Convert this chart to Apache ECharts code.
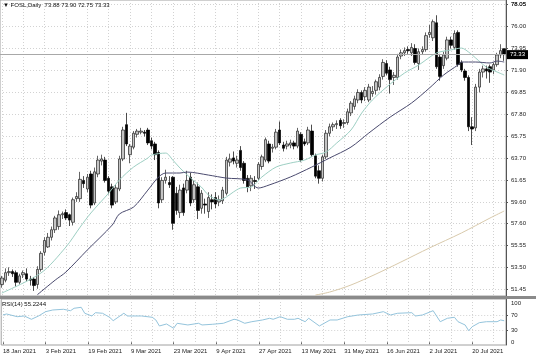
<!DOCTYPE html>
<html><head><meta charset="utf-8">
<script src="https://cdn.jsdelivr.net/npm/echarts@6/dist/echarts.min.js"></script>
<style>html,body{margin:0;padding:0;background:#fff}#c{width:536px;height:357px}</style>
</head><body><div id="c"></div>
<script>
// ---- data ----
const symbolTitle = '\u25BC FOSL,Daily  73.88 73.90 72.75 73.33';
const rsiTitle = 'RSI(14) 55.2244';
const dateLabels = ['18 Jan 2021','3 Feb 2021','19 Feb 2021','9 Mar 2021','23 Mar 2021','9 Apr 2021','27 Apr 2021','13 May 2021','31 May 2021','16 Jun 2021','2 Jul 2021','20 Jul 2021'];
const priceTicks = [51.45,53.50,55.55,57.60,59.60,61.65,63.70,65.75,67.80,69.85,71.90,73.95,76.00,78.05];
const rsiTicks = [0,30,70,100];
const rsiLevels = [30,70];
const lastPrice = 73.33;

const open = [51.9,52.3,53.0,53.1,53.0,52.1,52.8,52.9,52.4,52.4,51.9,53.3,54.9,55.4,56.3,57.0,57.3,58.4,58.6,58.4,
57.7,59.9,59.9,61.6,60.8,62.2,59.5,62.2,63.4,63.5,61.8,61.0,59.6,60.8,63.6,66.8,64.0,64.7,65.9,66.1,
66.1,66.3,65.3,65.0,64.2,59.8,61.6,61.4,61.9,60.4,58.6,60.9,60.7,61.9,59.8,61.0,59.0,59.4,58.7,59.8,
60.0,59.6,59.7,60.4,63.3,63.7,63.2,64.4,63.2,61.8,61.1,61.6,61.8,62.9,63.5,65.0,64.6,64.7,66.3,64.9,
64.8,64.9,65.1,64.8,65.9,65.2,65.1,66.2,63.9,62.5,61.8,63.8,66.0,66.6,66.8,67.2,66.9,67.0,67.9,68.5,
69.1,69.8,69.4,69.1,69.7,70.0,70.3,71.3,72.5,71.9,71.2,71.2,73.2,73.5,73.8,73.5,73.9,72.5,73.6,73.8,
75.2,74.9,76.3,73.1,72.3,73.0,74.7,74.0,75.4,72.6,71.8,71.2,66.6,66.5,70.3,71.7,72.0,72.2,71.9,72.4,
73.3,73.88];
const close = [52.5,53.0,53.1,52.9,52.1,52.7,53.0,52.4,52.3,51.8,53.3,54.8,56.0,56.3,57.0,58.1,58.4,58.5,58.1,57.9,
59.8,60.1,61.7,61.3,61.9,59.3,62.4,63.5,63.6,61.6,60.6,59.3,60.9,63.6,66.3,65.0,64.8,66.0,66.2,66.2,
66.0,65.1,64.8,64.0,59.5,61.6,61.9,61.2,57.6,58.8,60.7,58.6,61.6,59.5,61.2,58.8,60.4,59.3,60.0,59.6,
59.4,59.8,60.7,63.5,63.6,63.4,63.5,62.8,61.6,61.0,61.8,61.5,63.1,63.8,65.4,63.4,64.7,66.1,65.1,64.6,
65.0,65.1,64.8,66.2,63.5,65.0,66.3,64.0,62.0,61.8,63.8,66.0,66.6,66.8,66.9,66.7,67.0,68.0,68.8,69.2,
69.8,69.1,70.0,70.3,69.9,70.8,71.2,72.6,71.6,71.0,71.4,73.1,73.5,73.7,73.7,74.0,72.6,73.6,73.8,75.1,
75.4,76.4,72.2,71.3,73.3,74.7,74.2,75.3,72.4,71.9,71.2,66.6,66.4,70.3,71.7,72.0,71.8,71.7,72.4,73.3,
73.7,73.33];
const low = [51.6,52.1,52.7,52.6,51.7,51.9,52.5,52.2,51.8,51.3,51.5,53.1,54.6,55.3,56.0,56.7,57.0,58.0,57.9,57.35,
57.4,59.6,59.6,60.9,60.5,59.0,59.3,61.9,63.0,61.4,60.3,59.0,59.4,60.6,63.4,64.8,63.2,64.5,65.6,65.9,
65.7,64.9,64.5,63.5,59.0,59.5,61.3,60.9,57.0,58.4,58.1,58.3,60.4,59.2,59.5,58.0,58.5,58.5,58.1,58.9,
59.0,59.2,59.4,60.2,62.9,63.1,62.8,62.5,61.3,60.5,60.6,60.8,61.6,62.6,63.3,63.2,64.2,64.5,64.9,64.3,
64.5,64.6,64.5,64.6,63.3,64.8,64.9,63.8,61.8,61.3,61.5,63.6,65.7,66.2,66.4,66.4,66.5,66.8,67.6,68.2,
68.8,68.8,69.0,68.9,69.4,69.6,70.0,71.0,71.4,69.7,70.5,71.0,72.9,73.2,73.4,73.2,72.4,71.9,73.3,73.6,
74.9,74.6,72.0,70.9,72.0,72.8,73.9,73.8,72.2,71.7,70.9,66.2,64.9,66.2,69.8,71.2,71.1,70.7,71.5,72.2,
73.0,72.75];
const high = [52.7,53.4,53.5,53.3,53.2,52.9,53.2,53.4,52.7,52.6,53.6,55.0,56.3,56.7,57.3,58.3,58.8,58.7,58.9,58.5,
60.0,60.5,62.4,62.0,62.2,62.5,62.8,63.9,64.0,63.8,62.0,61.3,61.2,63.9,66.6,67.9,65.0,66.2,66.4,66.5,
66.3,66.5,65.6,65.2,64.4,61.9,62.6,62.0,62.0,61.0,61.2,61.3,62.5,62.3,61.6,61.4,60.7,59.9,60.5,60.3,
60.5,60.2,61.0,63.8,64.1,64.3,63.9,64.8,63.4,62.1,62.1,62.0,63.3,64.0,65.6,65.3,65.0,66.4,67.1,65.2,
65.3,65.4,65.3,66.5,66.1,65.5,66.6,66.8,64.1,63.0,64.0,66.3,66.9,67.0,67.2,67.4,67.3,68.3,69.0,69.5,
70.1,70.0,70.3,70.6,70.4,71.0,71.5,72.9,72.8,72.2,71.7,73.4,73.8,74.0,74.1,74.4,74.3,73.9,74.1,75.4,
76.1,76.6,77.0,73.4,73.6,75.0,75.0,75.6,75.6,72.8,72.0,71.4,67.5,70.6,72.0,72.3,72.3,72.4,72.6,73.5,
74.3,73.90];

// moving averages and RSI: [bar index, value]
const maFast = [[0,51.10],[11,52.97],[18,55.39],[22,57.25],[25,58.56],[30,60.42],[33,61.64],[37,62.85],[41,63.69],[42,63.97],[46,64.15],[48,63.50],[50,62.76],[53,61.82],[56,60.98],[58,60.24],[61,59.77],[63,60.05],[65,60.52],[67,60.89],[70,60.98],[73,61.92],[77,62.85],[81,63.22],[85,63.50],[88,63.97],[91,64.25],[94,65.09],[98,66.30],[101,67.88],[104,69.10],[108,70.31],[113,71.61],[117,72.36],[122,73.48],[126,73.76],[129,73.94],[131,73.57],[133,73.01],[136,72.17],[139,71.71],[141,71.43]];
const maSlow = [[10,50.95],[15,52.31],[18,53.06],[24,55.11],[31,57.44],[33,58.47],[37,59.12],[41,60.70],[44,61.92],[46,62.29],[50,62.29],[52,62.38],[58,62.10],[63,61.82],[69,61.64],[72,60.89],[75,61.17],[81,61.92],[87,62.85],[92,63.69],[98,64.71],[103,66.02],[109,67.51],[115,68.82],[120,70.21],[124,71.43],[128,72.36],[129,72.64],[133,72.64],[137,72.55],[139,72.73],[141,72.64]];
const maLong = [[88,50.91],[92,51.19],[98,51.85],[105,52.87],[112,53.99],[120,55.30],[129,56.70],[137,58.09],[141,58.75]];
const rsi = [[0,70.0],[1,72.6],[4,65.6],[6,67.4],[8,59.0],[10,67.4],[12,78.5],[14,82.8],[17,84.6],[19,81.0],[20,87.2],[22,89.7],[23,74.4],[25,67.4],[26,75.9],[28,74.4],[30,64.1],[31,55.4],[34,74.4],[35,67.4],[39,67.4],[42,64.1],[43,57.2],[44,41.8],[46,46.9],[48,35.9],[49,48.7],[52,44.4],[55,48.7],[56,44.4],[59,46.2],[62,48.7],[65,59.0],[66,57.2],[68,48.7],[70,52.8],[73,57.2],[75,61.5],[76,59.0],[78,65.6],[80,59.0],[82,59.0],[83,61.5],[85,52.8],[86,61.5],[89,41.8],[92,57.2],[94,57.2],[97,65.6],[100,70.0],[104,72.6],[107,78.5],[109,70.0],[111,74.4],[115,75.9],[116,67.4],[118,70.0],[121,81.0],[123,52.8],[125,61.5],[127,64.1],[128,52.8],[130,44.4],[131,29.7],[132,40.0],[134,50.3],[136,52.8],[139,52.8],[140,57.2],[141,55.2]];

// ---- chart ----
const n = open.length;
const cats = Array.from({length: n}, (_, i) => String(i));
const candles = open.map((o, i) => [o, close[i], low[i], high[i]]);
const FONT = 'Liberation Sans';
const gridLine = {show: true, lineStyle: {color: '#d2d2d2', width: 1, type: [1, 2]}};
const L = 0, W = 506;
const topTick = priceTicks[priceTicks.length - 1];

const chart = echarts.init(document.getElementById('c'), null, {renderer: 'canvas'});
chart.setOption({
  animation: false,
  backgroundColor: '#fff',
  grid: [
    {left: L, top: 0, width: W, height: 296, show: true, borderColor: '#a0a0a0', borderWidth: 1},
    {left: L, top: 299, width: W, height: 46, show: true, borderColor: '#a0a0a0', borderWidth: 1}
  ],
  xAxis: [
    {type: 'category', gridIndex: 0, data: cats, boundaryGap: true,
     axisLine: {show: false}, axisTick: {show: false}, axisLabel: {show: false},
     splitLine: Object.assign({interval: (i) => i % 6 === 0, alignWithLabel: true}, gridLine)},
    {type: 'category', gridIndex: 1, data: cats, boundaryGap: true,
     axisLine: {show: false},
     axisTick: {show: true, alignWithLabel: true, interval: (i) => i % 12 === 0, length: 2, inside: false, lineStyle: {color: '#666'}},
     axisLabel: {show: true, interval: (i) => i % 12 === 0, formatter: (v, i) => dateLabels[i / 12] || '',
       align: 'left', margin: 3, fontSize: 6, fontFamily: FONT, color: '#222'},
     splitLine: Object.assign({interval: (i) => i % 6 === 0, alignWithLabel: true}, gridLine)}
  ],
  yAxis: [
    {type: 'value', gridIndex: 0, position: 'right', min: 50.824, max: 78.423,
     axisLine: {show: true, lineStyle: {color: '#555'}},
     axisTick: {show: true, customValues: priceTicks, length: 2, lineStyle: {color: '#555'}},
     axisLabel: {show: true, customValues: priceTicks, showMaxLabel: true, showMinLabel: true,
       formatter: (v) => v.toFixed(2), margin: 5, fontSize: 6, fontFamily: FONT, color: '#222'},
     splitLine: gridLine},
    {type: 'value', gridIndex: 1, position: 'right', min: -7, max: 111,
     axisLine: {show: true, lineStyle: {color: '#555'}},
     axisTick: {show: true, customValues: rsiLevels, length: 2, lineStyle: {color: '#555'}},
     axisLabel: {show: true, customValues: rsiTicks, showMaxLabel: true, showMinLabel: true,
       formatter: (v) => String(v), margin: 5, fontSize: 6, fontFamily: FONT, color: '#222'},
     splitLine: gridLine}
  ],
  series: [
    {type: 'candlestick', xAxisIndex: 0, yAxisIndex: 0, data: candles, barWidth: 3,
     itemStyle: {color: '#c4c4c4', color0: '#000', borderColor: '#222', borderColor0: '#000', borderWidth: 0.7},
     markLine: {symbol: 'none', silent: true, animation: false,
       data: [
         {yAxis: lastPrice,
          lineStyle: {color: '#a8a8a8', width: 1, type: 'solid'},
          label: {show: true, position: 'end', distance: 1, formatter: () => lastPrice.toFixed(2),
            backgroundColor: '#000', color: '#fff', padding: [2, 3, 1, 3], fontSize: 6, fontFamily: FONT}},
         {yAxis: topTick,
          lineStyle: {color: '#d2d2d2', width: 1, type: [1, 2]},
          label: {show: true, position: 'end', distance: 5, formatter: () => topTick.toFixed(2),
            color: '#222', fontSize: 6, fontFamily: FONT}}
       ]}},
    {type: 'line', xAxisIndex: 0, yAxisIndex: 0, data: maFast, showSymbol: false, smooth: 0.3,
     lineStyle: {color: '#9dcfc3', width: 1}},
    {type: 'line', xAxisIndex: 0, yAxisIndex: 0, data: maSlow, showSymbol: false, smooth: 0.3,
     lineStyle: {color: '#4a4a6e', width: 1}},
    {type: 'line', xAxisIndex: 0, yAxisIndex: 0, data: maLong, showSymbol: false, smooth: 0.3,
     lineStyle: {color: '#d8c9ab', width: 1}},
    {type: 'line', xAxisIndex: 1, yAxisIndex: 1, data: rsi, showSymbol: false,
     lineStyle: {color: '#94c4dc', width: 1}}
  ],
  graphic: [
    {type: 'rect', left: 0, top: 296, shape: {width: 536, height: 3}, style: {fill: '#8a8a8a'}, z: 100},
    {type: 'text', left: 3, top: 2, style: {text: symbolTitle, fontSize: 6, fontFamily: FONT, fill: '#111'}, z: 100},
    {type: 'text', left: 2, top: 301, style: {text: rsiTitle, fontSize: 6, fontFamily: FONT, fill: '#111'}, z: 100}
  ]
});
</script>
</body></html>
